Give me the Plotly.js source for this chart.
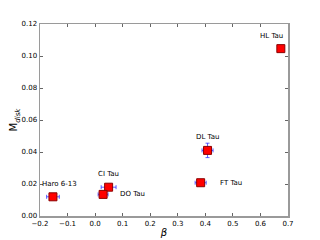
<!DOCTYPE html>
<html><head><meta charset="utf-8">
<script src="https://cdn.plot.ly/plotly-3.0.1.min.js"></script>
<style>html,body{margin:0;padding:0;background:#fff}#c{width:320px;height:240px}</style>
</head><body><div id="c"></div>
<script>
const names = ["Haro 6-13","CI Tau","DO Tau","FT Tau","DL Tau","HL Tau"];
const beta = [-0.153, 0.049, 0.029, 0.383, 0.408, 0.674];
const betaErr = [0.023, 0.027, 0.018, 0.02, 0.02, 0.005];
const mdisk = [0.012, 0.018, 0.0135, 0.0208, 0.041, 0.1046];
const mdiskErr = [0.0008, 0.001, 0.0008, 0.0006, 0.0045, 0.0005];
const xTicks = [-0.2,-0.1,0.0,0.1,0.2,0.3,0.4,0.5,0.6,0.7];
const yTicks = [0.00,0.02,0.04,0.06,0.08,0.10,0.12];

const labelPos = {
  "Haro 6-13": {xshift:-13, yshift:13, xanchor:"left"},
  "CI Tau": {xshift:0, yshift:13, xanchor:"center"},
  "DO Tau": {xshift:15, yshift:0, xanchor:"left"},
  "FT Tau": {xshift:17, yshift:0, xanchor:"left"},
  "DL Tau": {xshift:0, yshift:13, xanchor:"center"},
  "HL Tau": {xshift:4, yshift:13, xanchor:"right"}
};

const trace = {
  x: beta, y: mdisk, type: "scatter", mode: "markers",
  marker: {symbol: "square", size: 8, color: "#ff0000", line: {color: "#8b0000", width: 1}},
  error_x: {type: "data", array: betaErr, color: "#3333ff", thickness: 0.8, width: 2},
  error_y: {type: "data", array: mdiskErr, color: "#3333ff", thickness: 0.8, width: 2},
  hoverinfo: "skip"
};

const annotations = names.map((n, i) => Object.assign({
  x: beta[i], y: mdisk[i], xref: "x", yref: "y", text: n, showarrow: false,
  yanchor: "middle", font: {family: "DejaVu Sans", size: 7, color: "#000"}
}, labelPos[n]));

const axisCommon = {
  showline: true, linecolor: "#9a9a9a", linewidth: 1.5, mirror: "ticks",
  ticks: "inside", ticklen: 3, tickcolor: "#666", tickwidth: 1,
  showgrid: false, zeroline: false,
  tickfont: {family: "DejaVu Sans", size: 7, color: "#000"}
};

const layout = {
  width: 320, height: 240,
  margin: {l: 40, r: 32, t: 24, b: 24},
  paper_bgcolor: "#fff", plot_bgcolor: "#fff",
  showlegend: false,
  xaxis: Object.assign({}, axisCommon, {
    range: [-0.2, 0.7], tickvals: xTicks, tickformat: ".1f",
    title: {text: "<i>β</i>", font: {family: "DejaVu Sans", size: 10, color: "#000"}, standoff: 2}
  }),
  yaxis: Object.assign({}, axisCommon, {
    range: [0, 0.12], tickvals: yTicks, tickformat: ".2f",
    title: {text: "M<sub><i>disk</i></sub>", font: {family: "DejaVu Sans", size: 10, color: "#000"}, standoff: 1}
  }),
  annotations: annotations
};

Plotly.newPlot("c", [trace], layout, {staticPlot: true, displayModeBar: false});
</script></body></html>
